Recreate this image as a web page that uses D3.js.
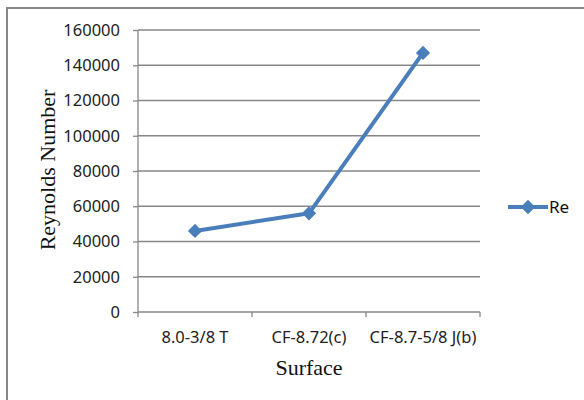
<!DOCTYPE html>
<html>
<head>
<meta charset="utf-8">
<script src="https://cdn.jsdelivr.net/npm/d3@7"></script>
<style>
  body { margin: 0; background: #fff; }
  svg { display: block; }
</style>
</head>
<body>
<div id="chart"></div>
<script>
// chart data
var categories = ["8.0-3/8 T", "CF-8.72(c)", "CF-8.7-5/8 J(b)"];
var reValues = [46000, 56000, 147000];
var yTicks = [0, 20000, 40000, 60000, 80000, 100000, 120000, 140000, 160000];
var seriesName = "Re";

var svgWidth = 584;
var svgHeight = 400;

var margin = { top: 30, right: 104, bottom: 88, left: 138 };
var width = svgWidth - margin.left - margin.right;
var height = svgHeight - margin.top - margin.bottom;

var lineColor = "#4a7ebb";
var gridColor = "#878787";
var tickFont = "'Noto Sans', 'Open Sans', sans-serif";
var titleFont = "'Liberation Serif', 'DejaVu Serif', serif";

var svg = d3.select("#chart")
    .append("svg")
    .attr("width", svgWidth)
    .attr("height", svgHeight);

// outer chart border
svg.append("rect")
    .attr("x", 7)
    .attr("y", 8)
    .attr("width", svgWidth + 10)
    .attr("height", svgHeight + 10)
    .attr("fill", "none")
    .attr("stroke", gridColor)
    .attr("stroke-width", 2);

var chartGroup = svg.append("g")
    .attr("transform", `translate(${margin.left}, ${margin.top})`);

// scales
var xScale = d3.scaleBand().domain(categories).range([0, width]);
var yScale = d3.scaleLinear().domain([0, 160000]).range([height, 0]);

// gridlines
chartGroup.append("g")
    .selectAll("line")
    .data(yTicks.filter(d => d > 0))
    .enter()
    .append("line")
    .attr("x1", 0)
    .attr("x2", width)
    .attr("y1", d => yScale(d))
    .attr("y2", d => yScale(d))
    .attr("stroke", gridColor)
    .attr("stroke-width", 1.3);

// y axis
var leftAxis = d3.axisLeft(yScale).tickValues(yTicks).tickSize(5).tickPadding(13).tickFormat(d3.format("d"));
var yAxisG = chartGroup.append("g").call(leftAxis);
yAxisG.select(".domain").attr("stroke", gridColor).attr("stroke-width", 1.3).attr("d", `M0,0V${height}`);
yAxisG.selectAll(".tick line").attr("stroke", gridColor).attr("stroke-width", 1.3);
yAxisG.selectAll(".tick text")
    .attr("fill", "#222")
    .style("font-family", tickFont)
    .style("font-size", "16.5px");

// x axis (ticks at category boundaries)
chartGroup.append("line")
    .attr("x1", 0).attr("x2", width)
    .attr("y1", height).attr("y2", height)
    .attr("stroke", gridColor).attr("stroke-width", 1.3);

var boundaries = categories.map(c => xScale(c)).concat([width]);
chartGroup.append("g")
    .selectAll("line")
    .data(boundaries)
    .enter()
    .append("line")
    .attr("x1", d => d).attr("x2", d => d)
    .attr("y1", height).attr("y2", height + 5)
    .attr("stroke", gridColor).attr("stroke-width", 1.3);

chartGroup.append("g")
    .selectAll("text")
    .data(categories)
    .enter()
    .append("text")
    .attr("x", d => xScale(d) + xScale.bandwidth() / 2)
    .attr("y", height + 31)
    .attr("text-anchor", "middle")
    .attr("fill", "#222")
    .style("font-family", tickFont)
    .style("font-size", "16.5px")
    .text(d => d);

// series line
var line = d3.line()
    .x((d, i) => xScale(categories[i]) + xScale.bandwidth() / 2)
    .y(d => yScale(d));

chartGroup.append("path")
    .datum(reValues)
    .attr("d", line)
    .attr("fill", "none")
    .attr("stroke", lineColor)
    .attr("stroke-width", 4)
    .attr("stroke-linejoin", "round");

var diamond = d3.symbol().type(d3.symbolDiamond2).size(130);

chartGroup.append("g")
    .selectAll("path")
    .data(reValues)
    .enter()
    .append("path")
    .attr("d", diamond)
    .attr("transform", (d, i) => `translate(${xScale(categories[i]) + xScale.bandwidth() / 2}, ${yScale(d)})`)
    .attr("fill", lineColor);

// axis titles
svg.append("text")
    .attr("transform", "rotate(-90)")
    .attr("x", -170)
    .attr("y", 55)
    .attr("text-anchor", "middle")
    .attr("fill", "#111")
    .style("font-family", titleFont)
    .style("font-size", "22px")
    .text("Reynolds Number");

svg.append("text")
    .attr("x", margin.left + width / 2)
    .attr("y", 375)
    .attr("text-anchor", "middle")
    .attr("fill", "#111")
    .style("font-family", titleFont)
    .style("font-size", "22px")
    .text("Surface");

// legend
var legend = svg.append("g").attr("transform", "translate(508, 207)");
legend.append("line")
    .attr("x1", 0).attr("x2", 40)
    .attr("y1", 0).attr("y2", 0)
    .attr("stroke", lineColor)
    .attr("stroke-width", 4);
legend.append("path")
    .attr("d", diamond)
    .attr("transform", "translate(20, 0)")
    .attr("fill", lineColor);
legend.append("text")
    .attr("x", 41)
    .attr("y", 6)
    .attr("fill", "#111")
    .style("font-family", tickFont)
    .style("font-size", "17px")
    .text(seriesName);
</script>
</body>
</html>
